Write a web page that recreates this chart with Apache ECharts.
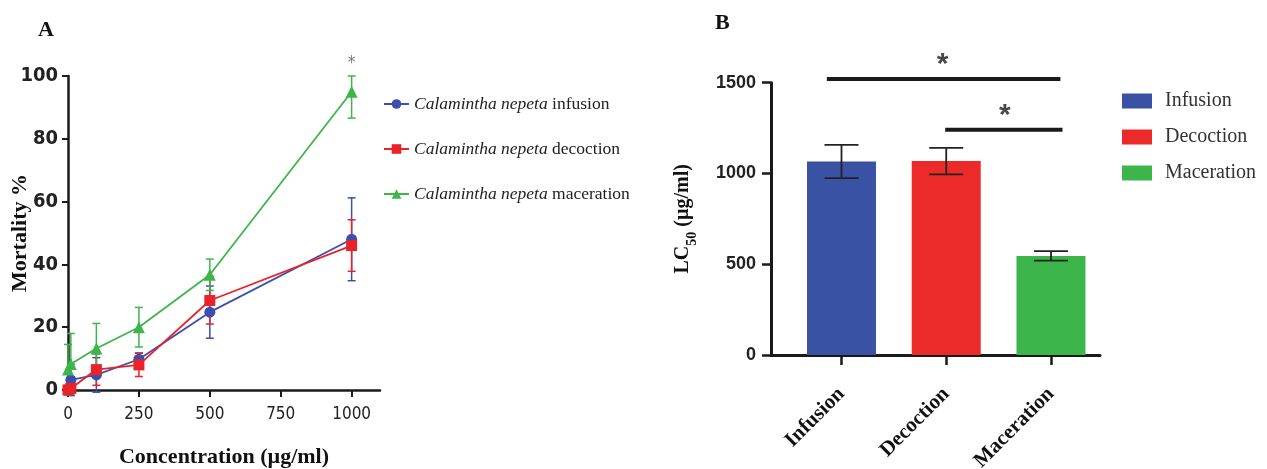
<!DOCTYPE html>
<html>
<head>
<meta charset="utf-8">
<script src="https://cdn.jsdelivr.net/npm/echarts@6/dist/echarts.min.js"></script>
<style>
  html, body { margin: 0; padding: 0; background: #fff; }
  #chart { width: 1267px; height: 469px; }
</style>
</head>
<body>
<div id="chart"></div>
<script>
// panel A - mortality vs concentration
const conc = [0, 10, 100, 250, 500, 1000]
const infusion = [0, 3.2, 4.8, 9.8, 24.8, 48]
const infusionSd = [0, 5, 5.5, 2, 8.3, 13.2]
const decoction = [0, 0.5, 6.5, 8, 28.5, 46]
const decoctionSd = [1.5, 1, 5, 3.7, 7.5, 8.2]
const maceration = [6.5, 8.3, 13.2, 20, 36.7, 95]
const macerationSd = [8, 9.7, 8, 6.3, 5, 8.4]
const xTicksA = [0, 250, 500, 750, 1000]

// panel B - LC50
const extracts = ['Infusion', 'Decoction', 'Maceration']
const lc50 = [1066, 1068, 546]
const lc50Sd = [92, 73, 26]
// significance bars: [from, to, y], stars: [x, y]
const sigLines = [[0.86, 3.09, 1520], [1.99, 3.11, 1241]]
const sigStars = [[1.966, 1600], [2.56, 1320]]

const colA = ['#3d4fae', '#e8232a', '#3db54a']
const colB = ['#3a52a4', '#ec2a2a', '#3cb54a']
const narrow = "'Liberation Sans Narrow', 'DejaVu Sans Condensed', sans-serif"
const serif = "'Liberation Serif', 'DejaVu Serif', serif"

const chart = echarts.init(document.getElementById('chart'))

function pairs(xs, ys) {
  return xs.map((x, i) => [x, ys[i]])
}
function triples(xs, ys, es) {
  return xs.map((x, i) => [x, ys[i], es[i]])
}

// error bar drawer, caps in px
function errBars(color, capHalf, maxY, width) {
  return function (params, api) {
    const x = api.value(0), y = api.value(1), e = api.value(2)
    if (!e) return null
    const hi = api.coord([x, Math.min(y + e, maxY)])
    const lo = api.coord([x, y - e])
    const st = {stroke: color, lineWidth: width}
    return {
      type: 'group',
      children: [
        {type: 'line', shape: {x1: hi[0], y1: hi[1], x2: lo[0], y2: lo[1]}, style: st},
        {type: 'line', shape: {x1: hi[0] - capHalf, y1: hi[1], x2: hi[0] + capHalf, y2: hi[1]}, style: st},
        {type: 'line', shape: {x1: lo[0] - capHalf, y1: lo[1], x2: lo[0] + capHalf, y2: lo[1]}, style: st}
      ]
    }
  }
}

const namesA = ['Calamintha nepeta infusion', 'Calamintha nepeta decoction', 'Calamintha nepeta maceration']
const valsA = [infusion, decoction, maceration]
const sdA = [infusionSd, decoctionSd, macerationSd]
const symA = ['circle', 'rect', 'triangle']

const series = []
valsA.forEach((v, i) => {
  series.push({
    type: 'custom',
    xAxisIndex: 0, yAxisIndex: 0,
    renderItem: errBars(colA[i], 4, 100, 1.5),
    data: triples(conc, v, sdA[i]),
    z: 1,
    silent: true
  })
})
valsA.forEach((v, i) => {
  series.push({
    name: namesA[i],
    type: 'line',
    xAxisIndex: 0, yAxisIndex: 0,
    data: pairs(conc, v),
    symbol: symA[i],
    symbolSize: i === 2 ? 12 : 11,
    color: colA[i],
    lineStyle: {width: 1.8},
    z: 3
  })
})
// star above 1000
series.push({
  type: 'scatter',
  xAxisIndex: 0, yAxisIndex: 0,
  data: [[1000, 104]],
  symbolSize: 0,
  clip: false,
  label: {show: true, formatter: '*', color: '#555', fontSize: 17, fontFamily: narrow, position: 'inside'}
})

// panel B
extracts.forEach((name, i) => {
  series.push({
    name: name,
    type: 'bar',
    xAxisIndex: 1, yAxisIndex: 1,
    data: [[i + 1, lc50[i]]],
    barWidth: 69,
    barGap: '-100%',
    color: colB[i]
  })
})
series.push({
  type: 'custom',
  xAxisIndex: 1, yAxisIndex: 1,
  renderItem: errBars('#222', 17, 99999, 1.8),
  data: triples(extracts.map((_, i) => i + 1), lc50, lc50Sd),
  z: 5
})
sigLines.forEach(s => {
  series.push({
    type: 'line',
    xAxisIndex: 1, yAxisIndex: 1,
    data: [[s[0], s[2]], [s[1], s[2]]],
    symbol: 'none',
    clip: false,
    lineStyle: {color: '#1a1a1a', width: 4},
    silent: true
  })
})
series.push({
  type: 'scatter',
  xAxisIndex: 1, yAxisIndex: 1,
  data: sigStars,
  symbolSize: 0,
  clip: false,
  label: {show: true, formatter: '*', color: '#1a1a1a', fontSize: 30, fontWeight: 'bold', fontFamily: 'Liberation Sans, sans-serif', position: 'inside'}
})

const option = {
  animation: false,
  backgroundColor: '#fff',
  title: [
    {text: 'A', left: 33, top: 14, textStyle: {fontFamily: serif, fontSize: 22, fontWeight: 'bold', color: '#111'}},
    {text: 'B', left: 710, top: 7, textStyle: {fontFamily: serif, fontSize: 22, fontWeight: 'bold', color: '#111'}}
  ],
  legend: [
    {
      data: namesA,
      left: 378, top: 90,
      orient: 'vertical',
      itemWidth: 25, itemHeight: 12,
      itemGap: 27,
      formatter: n => '{i|Calamintha nepeta} ' + n.split(' ')[2],
      textStyle: {
        fontFamily: serif, fontSize: 17.5, color: '#222',
        rich: {i: {fontFamily: serif, fontSize: 17.5, fontStyle: 'italic', color: '#222'}}
      }
    },
    {
      data: extracts,
      left: 1117, top: 86,
      orient: 'vertical',
      icon: 'rect',
      itemWidth: 30, itemHeight: 15,
      itemGap: 16,
      textStyle: {fontFamily: serif, fontSize: 20, color: '#333', padding: [0, 0, 0, 8]}
    }
  ],
  grid: [
    {left: 68, top: 76, width: 312, height: 314, outerBoundsMode: 'none'},
    {left: 771, top: 82.7, width: 329, height: 272.3, outerBoundsMode: 'none'}
  ],
  xAxis: [
    {
      type: 'value', gridIndex: 0, min: 0, max: 1100,
      name: 'Concentration (µg/ml)', nameLocation: 'middle', nameGap: 56, nameMoveOverlap: false,
      nameTextStyle: {fontFamily: serif, fontSize: 22, fontWeight: 'bold', color: '#111'},
      axisLine: {lineStyle: {color: '#1a1a1a', width: 2.5}},
      axisTick: {length: 7, lineStyle: {color: '#1a1a1a', width: 2}, customValues: xTicksA},
      axisLabel: {customValues: xTicksA, margin: 16, formatter: v => String(v), fontFamily: narrow, fontSize: 17, color: '#222'},
      splitLine: {show: false}
    },
    {
      type: 'value', gridIndex: 1, min: 0.327, max: 3.468,
      axisLine: {lineStyle: {color: '#1a1a1a', width: 3}},
      axisTick: {length: 10, lineStyle: {color: '#1a1a1a', width: 2.5}, customValues: [1, 2, 3]},
      axisLabel: {
        customValues: [1, 2, 3], rotate: 45, margin: 36,
        formatter: v => extracts[Math.round(v) - 1],
        fontFamily: serif, fontSize: 21, fontWeight: 'bold', color: '#111'
      },
      splitLine: {show: false}
    }
  ],
  yAxis: [
    {
      type: 'value', gridIndex: 0, min: 0, max: 100, interval: 20,
      name: 'Mortality %', nameLocation: 'middle', nameGap: 37, nameMoveOverlap: false,
      nameTextStyle: {fontFamily: serif, fontSize: 22, fontWeight: 'bold', color: '#111'},
      axisLine: {show: true, lineStyle: {color: '#1a1a1a', width: 2.5}},
      axisTick: {show: true, length: 6, lineStyle: {color: '#1a1a1a', width: 2}},
      axisLabel: {margin: 10, fontFamily: narrow, fontSize: 20, fontWeight: 'bold', color: '#222'},
      splitLine: {show: false}
    },
    {
      type: 'value', gridIndex: 1, min: 0, max: 1500, interval: 500,
      name: '{a|LC}{s|50}{a| (µg/ml)}', nameLocation: 'middle', nameGap: 78, nameMoveOverlap: false,
      nameTextStyle: {
        rich: {
          a: {fontFamily: serif, fontSize: 20, fontWeight: 'bold', color: '#111', lineHeight: 26, verticalAlign: 'bottom'},
          s: {fontFamily: serif, fontSize: 14, fontWeight: 'bold', color: '#111', lineHeight: 26, verticalAlign: 'bottom', padding: [0, 0, -6, 0]}
        }
      },
      axisLine: {show: true, lineStyle: {color: '#1a1a1a', width: 3}},
      axisTick: {show: true, length: 9, lineStyle: {color: '#1a1a1a', width: 2.5}},
      axisLabel: {margin: 15, formatter: v => String(v), fontFamily: 'Liberation Sans, Arial, sans-serif', fontSize: 18, fontWeight: 'bold', color: '#222'},
      splitLine: {show: false}
    }
  ],
  series: series
}
chart.setOption(option)
</script>
</body>
</html>
